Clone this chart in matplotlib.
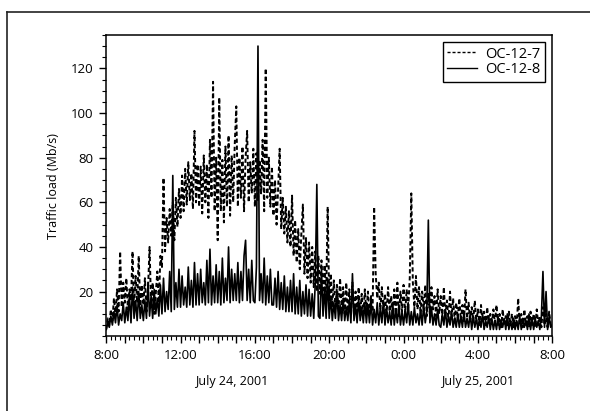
import matplotlib
matplotlib.use("Agg")
import matplotlib.pyplot as plt
import matplotlib.dates as mdates
import matplotlib.ticker as mticker
from matplotlib.lines import Line2D
import numpy as np
import pandas as pd

plt.rcParams['font.family'] = ['Open Sans', 'DejaVu Sans']
plt.rcParams['font.size'] = 9

# 5-minute samples, 24/7/2001 08:00 -> 25/7/2001 08:00 (one row per hour)
start = '2001-07-24 08:00'
oc7 = [
    3, 8, 5, 12, 7, 17, 9, 21, 11, 38, 13, 24,          # 08
    15, 26, 12, 21, 16, 38, 13, 27, 15, 36, 12, 23,     # 09
    14, 26, 11, 21, 40, 13, 24, 10, 19, 29, 15, 36,     # 10
    31, 71, 38, 53, 42, 57, 45, 60, 43, 62, 49, 66,     # 11
    53, 72, 56, 75, 59, 78, 61, 73, 57, 92, 60, 77,     # 12
    58, 76, 55, 81, 60, 77, 53, 88, 62, 114, 56, 80,    # 13
    43, 107, 56, 79, 51, 85, 58, 90, 54, 81, 60, 86,    # 14
    103, 58, 80, 62, 85, 56, 80, 92, 60, 78, 64, 84,    # 15
    58, 82, 61, 79, 64, 88, 56, 120, 62, 80, 58, 76,    # 16
    54, 70, 50, 66, 84, 48, 62, 46, 58, 42, 56, 40,     # 17
    63, 36, 52, 33, 48, 30, 46, 59, 28, 44, 26, 42,     # 18
    24, 40, 22, 38, 20, 36, 19, 34, 18, 32, 17, 58,     # 19
    16, 28, 13, 25, 12, 23, 11, 26, 12, 22, 10, 24,     # 20
    11, 21, 10, 24, 9, 20, 11, 22, 10, 19, 9, 21,       # 21
    10, 20, 9, 18, 11, 58, 28, 17, 24, 12, 22, 10,      # 22
    19, 9, 22, 11, 18, 8, 21, 10, 24, 9, 20, 11,        # 23
    23, 10, 21, 12, 26, 64, 24, 13, 27, 12, 22, 10,     # 00
    20, 11, 23, 9, 19, 10, 22, 12, 18, 9, 21, 10,       # 01
    18, 8, 22, 9, 16, 7, 20, 8, 17, 7, 15, 8,           # 02
    17, 7, 14, 6, 21, 8, 15, 6, 13, 7, 16, 6,           # 03
    12, 5, 14, 6, 11, 5, 13, 6, 10, 5, 12, 6,           # 04
    14, 5, 10, 4, 12, 5, 9, 4, 11, 5, 10, 4,            # 05
    9, 4, 17, 5, 10, 4, 12, 5, 9, 4, 11, 5,             # 06
    10, 4, 12, 5, 9, 4, 13, 5, 10, 4, 11, 5,            # 07
    6,
]
oc8 = [
    3, 6, 4, 9, 5, 11, 6, 14, 5, 10, 7, 15,             # 08
    6, 13, 7, 18, 6, 22, 8, 16, 7, 20, 8, 14,           # 09
    7, 16, 8, 24, 9, 18, 8, 21, 10, 17, 9, 23,          # 10
    10, 26, 11, 20, 12, 29, 11, 72, 12, 24, 13, 30,     # 11
    13, 27, 14, 22, 13, 31, 14, 25, 13, 33, 14, 28,     # 12
    14, 30, 15, 24, 14, 34, 15, 39, 14, 27, 15, 32,     # 13
    15, 29, 14, 35, 15, 26, 16, 40, 15, 30, 16, 28,     # 14
    16, 33, 15, 29, 16, 36, 43, 16, 30, 15, 34, 16,     # 15
    15, 31, 130, 16, 28, 15, 35, 14, 27, 15, 30, 14,    # 16
    14, 26, 13, 29, 12, 24, 12, 27, 11, 22, 11, 25,     # 17
    11, 28, 10, 22, 10, 25, 9, 20, 10, 23, 9, 21,       # 18
    9, 19, 8, 24, 68, 9, 8, 30, 9, 22, 8, 26,           # 19
    8, 18, 7, 15, 8, 20, 7, 14, 7, 17, 7, 13,           # 20
    7, 16, 6, 28, 7, 14, 6, 17, 7, 13, 6, 15,           # 21
    6, 14, 6, 17, 5, 12, 6, 15, 5, 13, 6, 16,           # 22
    5, 13, 6, 11, 5, 15, 5, 12, 6, 14, 5, 11,           # 23
    5, 12, 6, 15, 5, 11, 5, 13, 6, 10, 5, 12,           # 00
    5, 14, 6, 11, 52, 6, 13, 5, 10, 5, 12, 5,           # 01
    4, 10, 5, 12, 4, 9, 5, 11, 4, 8, 4, 10,             # 02
    4, 9, 4, 11, 4, 8, 4, 10, 3, 9, 4, 8,               # 03
    3, 8, 4, 10, 3, 7, 4, 9, 3, 8, 3, 7,                # 04
    3, 9, 3, 7, 4, 8, 3, 10, 3, 7, 3, 8,                # 05
    3, 7, 3, 9, 3, 8, 4, 7, 3, 10, 3, 8,                # 06
    3, 8, 4, 7, 3, 9, 29, 4, 20, 3, 9, 4,               # 07
    5,
]
series_names = ['OC-12-7', 'OC-12-8']
y_ticks = [20, 40, 60, 80, 100, 120]
day_labels = [('2001-07-24 14:45', 'July 24, 2001'), ('2001-07-25 04:00', 'July 25, 2001')]

t = pd.date_range(start, periods=len(oc7), freq='5min')

fig = plt.figure(figsize=(5.9, 4.11), dpi=100)
ax = fig.add_axes([0.180, 0.182, 0.756, 0.733])

ax.plot(t, oc7, color='black', lw=1.4, ls=(0, (2.2, 1.4)), label=series_names[0])
ax.plot(t, oc8, color='black', lw=1.2, label=series_names[1])

ax.set_xlim(t[0], t[-1])
ax.set_ylim(0, 135)
ax.set_yticks(y_ticks)
ax.yaxis.set_minor_locator(mticker.MultipleLocator(5))

ax.xaxis.set_major_locator(mdates.HourLocator())
ax.xaxis.set_minor_locator(mdates.MinuteLocator(byminute=[15, 30, 45]))

def hour_fmt(x, pos):
    d = mdates.num2date(x)
    if d.hour % 4 == 0:
        return f"{d.hour}:{d.minute:02d}"
    return ''

ax.xaxis.set_major_formatter(mticker.FuncFormatter(hour_fmt))
ax.tick_params(which='major', direction='out', length=5, width=1.0, labelsize=9.5, pad=4)
ax.tick_params(which='minor', direction='out', length=3, width=0.8)
for s in ax.spines.values():
    s.set_linewidth(1.1)

ax.set_ylabel('Traffic load (Mb/s)', fontsize=9, labelpad=8)

for when, txt in day_labels:
    ax.text(pd.Timestamp(when), -0.13, txt, transform=ax.get_xaxis_transform(),
            ha='center', va='top', fontsize=9)

leg = ax.legend(loc='upper right', frameon=True, fancybox=False, framealpha=1,
                edgecolor='black', fontsize=10.5, handlelength=2.0, borderpad=0.3,
                labelspacing=0.05, handletextpad=0.6, borderaxespad=0.5)
leg.get_frame().set_linewidth(1.0)
for h in leg.get_lines():
    h.set_linewidth(1.0)

# frame of the scanned page
fig.add_artist(Line2D([7 / 590, 1.0], [1 - 12 / 411, 1 - 12 / 411], color='#222222', lw=1.2))
fig.add_artist(Line2D([7 / 590, 7 / 590], [0, 1 - 12 / 411], color='#222222', lw=1.2))

fig.savefig('out.png', dpi=100)
